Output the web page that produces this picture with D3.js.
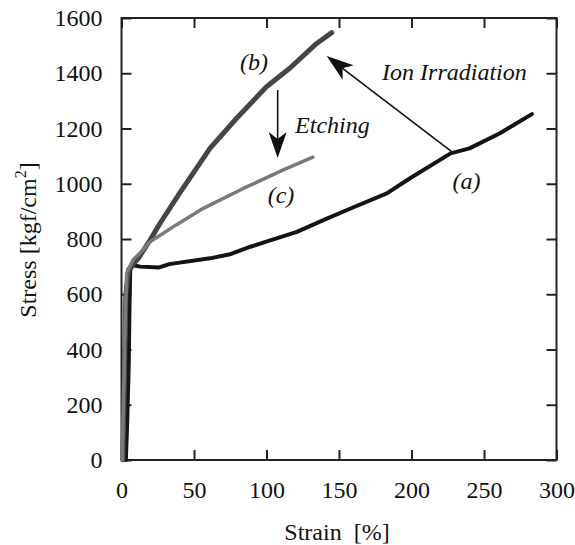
<!DOCTYPE html>
<html><head><meta charset="utf-8">
<script src="https://cdn.jsdelivr.net/npm/d3@7"></script>
</head>
<body style="margin:0">
<script>
// ---- data ----
const strainA = [3, 4, 5, 5.5, 6, 8, 13, 26, 33, 61, 75, 89, 102, 121, 140, 160, 183, 199, 227, 240, 261, 283];
const stressA = [0, 150, 350, 550, 690, 705, 700, 697, 709, 730, 745, 772, 794, 826, 870, 915, 965, 1020, 1110, 1128, 1183, 1252];
const strainB = [1, 2, 3, 5, 11.6, 19.7, 26.6, 40, 54, 61, 79.4, 100, 116, 134.6, 145];
const stressB = [0, 300, 600, 690, 730, 796, 857, 965, 1074, 1128, 1237, 1351, 1418, 1508, 1547];
const strainC = [0.5, 1.5, 2.5, 3.6, 8, 12.8, 19.7, 38, 56.4, 84, 111.6, 132];
const stressC = [0, 250, 500, 676, 725, 749, 790, 852, 911, 983, 1050, 1096];
const xTicks = [0, 50, 100, 150, 200, 250, 300];
const yTicks = [0, 200, 400, 600, 800, 1000, 1200, 1400, 1600];
const seriesNames = ["(a)", "(b)", "(c)"];
// annotation anchors in data units
const labelPos = [[238, 981], [91.4, 1412], [110, 930]];
const etchArrow = [[107.7, 1339], [107.7, 1093]];
const ionArrow = [[227.7, 1116], [141.5, 1462]];
const etchLabel = [119.7, 1184];
const ionLabel = [179.7, 1375];

const W = 575, H = 545;
const M = {left: 121.5, right: 556.5, top: 18, bottom: 460};
const FONT = "Liberation Serif";
const FS = 24;

const svg = d3.select("body").append("svg").attr("width", W).attr("height", H)
  .style("display", "block");
const x = d3.scaleLinear().domain([0, 300]).range([M.left, M.right]);
const y = d3.scaleLinear().domain([0, 1600]).range([M.bottom, M.top]);
const fmt = d3.format("d");

function setFont(s, italic) {
  return s.style("font-family", `"${FONT}"`).style("font-size", FS + "px")
    .style("font-style", italic ? "italic" : "normal").attr("fill", "#111");
}

function styleAxis(g, hideText) {
  g.attr("font-family", null).attr("font-size", null);
  g.selectAll(".domain").remove();
  g.selectAll(".tick line").attr("stroke", "#222").attr("stroke-width", 2);
  g.selectAll(".tick text").call(s => setFont(s, false));
  if (hideText) g.selectAll(".tick text").remove();
}

svg.append("g").attr("transform", `translate(0,${M.bottom})`)
  .call(d3.axisBottom(x).tickValues(xTicks).tickFormat(fmt).tickSizeInner(-10).tickSizeOuter(0).tickPadding(21))
  .call(g => styleAxis(g, false));
svg.append("g").attr("transform", `translate(0,${M.top})`)
  .call(d3.axisTop(x).tickValues(xTicks).tickSizeInner(-10).tickSizeOuter(0))
  .call(g => styleAxis(g, true));
svg.append("g").attr("transform", `translate(${M.left},0)`)
  .call(d3.axisLeft(y).tickValues(yTicks).tickFormat(fmt).tickSizeInner(-10).tickSizeOuter(0).tickPadding(19))
  .call(g => styleAxis(g, false));
svg.append("g").attr("transform", `translate(${M.right},0)`)
  .call(d3.axisRight(y).tickValues(yTicks).tickSizeInner(-10).tickSizeOuter(0))
  .call(g => styleAxis(g, true));

svg.append("rect").attr("x", M.left).attr("y", M.top)
  .attr("width", M.right - M.left).attr("height", M.bottom - M.top)
  .attr("fill", "none").attr("stroke", "#222").attr("stroke-width", 2);

// curves
const line = d3.line().x(d => x(d[0])).y(d => y(d[1]));
const series = [
  {pts: d3.zip(strainA, stressA), color: "#141414", w: 4},
  {pts: d3.zip(strainB, stressB), color: "#454545", w: 5},
  {pts: d3.zip(strainC, stressC), color: "#7a7a7a", w: 3.5}
];
svg.append("g").selectAll("path").data(series).join("path")
  .attr("d", d => line(d.pts)).attr("fill", "none")
  .attr("stroke", d => d.color).attr("stroke-width", d => d.w)
  .attr("stroke-linejoin", "round").attr("stroke-linecap", "round");

// series labels
svg.selectAll("text.lbl").data(seriesNames).join("text").attr("class", "lbl")
  .attr("x", (d, i) => x(labelPos[i][0])).attr("y", (d, i) => y(labelPos[i][1]))
  .attr("text-anchor", "middle").call(s => setFont(s, true)).text(d => d);

// arrows
function arrow(p0, p1, len, half, notch, sw) {
  const x0 = x(p0[0]), y0 = y(p0[1]), x1 = x(p1[0]), y1 = y(p1[1]);
  const dx = x1 - x0, dy = y1 - y0, L = Math.hypot(dx, dy);
  const ux = dx / L, uy = dy / L, nx = -uy, ny = ux;
  const bx = x1 - ux * len, by = y1 - uy * len;
  const mx = x1 - ux * (len - notch), my = y1 - uy * (len - notch);
  svg.append("line").attr("x1", x0).attr("y1", y0).attr("x2", mx).attr("y2", my)
    .attr("stroke", "#111").attr("stroke-width", sw);
  svg.append("path").attr("d",
    `M${x1},${y1}L${bx + nx * half},${by + ny * half}L${mx},${my}L${bx - nx * half},${by - ny * half}Z`)
    .attr("fill", "#111");
}
arrow(etchArrow[0], etchArrow[1], 26, 9, 7, 1.6);
arrow(ionArrow[0], ionArrow[1], 27, 9, 7, 1.6);

svg.append("text").attr("x", x(etchLabel[0])).attr("y", y(etchLabel[1]))
  .call(s => setFont(s, true)).text("Etching");
svg.append("text").attr("x", x(ionLabel[0])).attr("y", y(ionLabel[1]))
  .call(s => setFont(s, true)).text("Ion Irradiation");

// axis titles
svg.append("text").attr("x", 337).attr("y", 540).attr("text-anchor", "middle")
  .call(s => setFont(s, false)).text("Strain\u00a0\u00a0[%]");
const yl = svg.append("text").attr("transform", "translate(36,240) rotate(-90)")
  .attr("text-anchor", "middle").call(s => setFont(s, false));
yl.append("tspan").text("Stress [kgf/cm");
yl.append("tspan").style("font-size", "16px").attr("dy", -10).text("2");
yl.append("tspan").attr("dy", 10).text("]");
</script>
</body></html>
